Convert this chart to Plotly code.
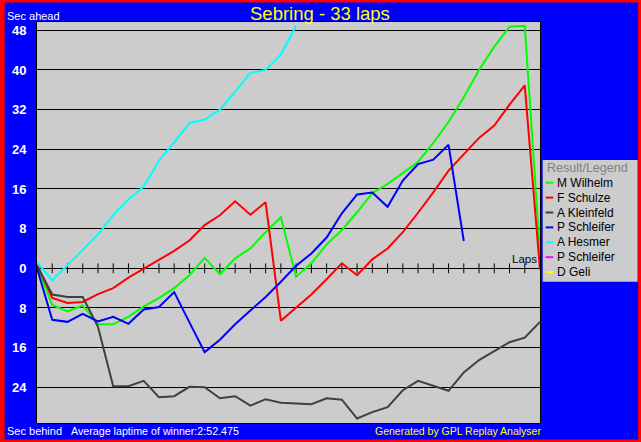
import plotly.graph_objects as go

# ---------------- data ----------------
laps = list(range(34))
lap_ticks = list(range(1, 33))

names = ["M Wilhelm", "F Schulze", "A Kleinfeld", "P Schleifer", "A Hesmer", "P Schleifer", "D Geli"]
colors = ["#00FF00", "#FF0000", "#404040", "#0000FF", "#00FFFF", "#FF00FF", "#FFFF00"]

wilhelm = [0.5, -7.4, -8.7, -7.5, -11.3, -11.3, -9.8, -7.7, -6.0, -4.0, -1.4, 2.1, -1.2, 2.0,
           4.0, 7.3, 10.3, -1.7, 1.0, 4.8, 7.7, 11.3, 15.2, 17.0, 19.2, 21.5, 25.3, 29.5, 34.5,
           40.0, 44.7, 48.7, 48.9, 3.0]
schulze = [0.8, -6.0, -7.0, -6.8, -5.2, -4.0, -1.9, -0.1, 1.6, 3.5, 5.6, 8.7, 10.7, 13.5,
           10.8, 13.3, -10.6, -7.9, -5.3, -2.2, 1.0, -1.4, 1.8, 4.0, 7.3, 11.2, 15.3, 19.7,
           23.0, 26.3, 28.8, 33.0, 36.9, -0.3]
kleinfeld = [0.5, -5.3, -5.8, -5.8, -11.8, -23.8, -23.8, -22.7, -26.0, -25.8, -23.9, -24.0,
             -26.2, -25.8, -27.7, -26.4, -27.1, -27.3, -27.4, -26.2, -26.5, -30.3, -29.0,
             -28.0, -24.6, -22.7, -23.7, -24.7, -21.0, -18.5, -16.7, -14.9, -14.0, -10.8]
schleifer = [0.0, -10.4, -10.8, -9.2, -10.7, -9.8, -11.2, -8.3, -7.8, -4.8, -10.9, -16.9, -14.4,
             -11.3, -8.5, -5.8, -2.7, 0.5, 3.0, 6.2, 11.1, 14.9, 15.3, 12.4, 17.7, 21.0, 21.9,
             24.9, 5.5]
hesmer = [1.2, -2.4, 0.6, 3.7, 6.8, 10.7, 13.9, 16.5, 21.7, 25.4, 29.3, 30.0, 32.0, 35.6, 39.4,
          40.0, 43.1, 48.9]
schleifer2 = []
geli = []

series = [wilhelm, schulze, kleinfeld, schleifer, hesmer, schleifer2, geli]

y_tickvals = [48, 40, 32, 24, 16, 8, 0, -8, -16, -24]
y_ticktext = ["48", "40", "32", "24", "16", "8", "0", "8", "16", "24"]

title_text = "Sebring - 33 laps"
legend_title = "Result/Legend"
avg_text = "Average laptime of winner:2:52.475"
gen_text = "Generated by GPL Replay Analyser"

# ---------------- layout geometry ----------------
W, H = 641, 442
L, R, T, B = 35, 101, 22, 19
PW, PH = W - L - R, H - T - B
FONT = "Liberation Sans, Arial, sans-serif"


def px(x):
    return (x - L) / PW


def py(y):
    return (H - B - y) / PH


fig = go.Figure()

# tick marks on the zero line
fig.add_trace(go.Scatter(
    x=lap_ticks, y=[0] * len(lap_ticks), mode="markers",
    marker=dict(symbol="line-ns", size=7, line=dict(width=1, color="black"), color="black"),
    showlegend=False, hoverinfo="skip"))

for name, col, vals in zip(names, colors, series):
    fig.add_trace(go.Scatter(
        x=laps[:len(vals)], y=vals, mode="lines", name=name,
        line=dict(color=col, width=2), showlegend=False))

shapes = []
annotations = []

# outer red frame
shapes.append(dict(type="rect", xref="paper", yref="paper",
                   x0=px(0), x1=px(W), y0=py(H), y1=py(0),
                   line=dict(color="#FF0000", width=5), fillcolor="rgba(0,0,0,0)", layer="above"))

# legend box
lx0, lx1, ly0, ly1 = 542.7, 638, 160, 281.7
shapes.append(dict(type="rect", xref="paper", yref="paper",
                   x0=px(lx0), x1=px(lx1), y0=py(ly1), y1=py(ly0),
                   line=dict(width=0), fillcolor="#CCCCCC", layer="above"))
annotations.append(dict(xref="paper", yref="paper", x=px(545), y=py(167.5),
                        xanchor="left", yanchor="middle", text=legend_title, showarrow=False,
                        font=dict(family=FONT, size=12.5, color="#808080")))
row0, row_step = 182.7, 14.9
for i, (name, col) in enumerate(zip(names, colors)):
    yy = row0 + i * row_step
    shapes.append(dict(type="line", xref="paper", yref="paper",
                       x0=px(545.7), x1=px(553.3), y0=py(yy), y1=py(yy),
                       line=dict(color=col, width=2), layer="above"))
    annotations.append(dict(xref="paper", yref="paper", x=px(555.5), y=py(yy),
                            xanchor="left", yanchor="middle", text=name, showarrow=False,
                            font=dict(family=FONT, size=12, color="black")))

# texts
annotations.append(dict(xref="paper", yref="paper", x=px(319), y=py(14),
                        xanchor="center", yanchor="middle", text=title_text, showarrow=False,
                        font=dict(family=FONT, size=18.5, color="#FFFF00")))
annotations.append(dict(xref="paper", yref="paper", x=px(3), y=py(15.5),
                        xanchor="left", yanchor="middle", text="Sec ahead", showarrow=False,
                        font=dict(family=FONT, size=11, color="white")))
annotations.append(dict(xref="paper", yref="paper", x=px(3), y=py(431),
                        xanchor="left", yanchor="middle", text="Sec behind", showarrow=False,
                        font=dict(family=FONT, size=11, color="white")))
annotations.append(dict(xref="paper", yref="paper", x=px(67), y=py(431),
                        xanchor="left", yanchor="middle", text=avg_text, showarrow=False,
                        font=dict(family=FONT, size=10.7, color="white")))
annotations.append(dict(xref="paper", yref="paper", x=px(543), y=py(431),
                        xanchor="right", yanchor="middle", text=gen_text, showarrow=False,
                        font=dict(family=FONT, size=10.5, color="#FFFF00")))
annotations.append(dict(xref="x", yref="y", x=laps[-1], y=0, xshift=-1, yshift=1,
                        xanchor="right", yanchor="bottom", text="Laps", showarrow=False,
                        font=dict(family=FONT, size=11.5, color="black")))

fig.update_layout(
    width=W, height=H,
    margin=dict(l=L, r=R, t=T, b=B, pad=0),
    paper_bgcolor="#0000FF", plot_bgcolor="#CCCCCC",
    showlegend=False,
    shapes=shapes, annotations=annotations,
    xaxis=dict(range=[0, 33], showgrid=False, zeroline=False, showticklabels=False,
               ticks="", showline=True, mirror=True, linecolor="black", linewidth=1,
               fixedrange=True),
    yaxis=dict(range=[-31.2, 49.67], tickmode="array", tickvals=y_tickvals, ticktext=y_ticktext,
               showgrid=True, gridcolor="black", gridwidth=1, zeroline=False,
               showline=True, mirror=True, linecolor="black", linewidth=1,
               ticks="", ticklabelstandoff=7,
               tickfont=dict(family=FONT, size=13, color="white", weight="bold"),
               fixedrange=True),
)

fig.write_html("out.html", config={"displayModeBar": False},
               post_script="document.body.style.margin='0';document.body.style.overflow='hidden';")
